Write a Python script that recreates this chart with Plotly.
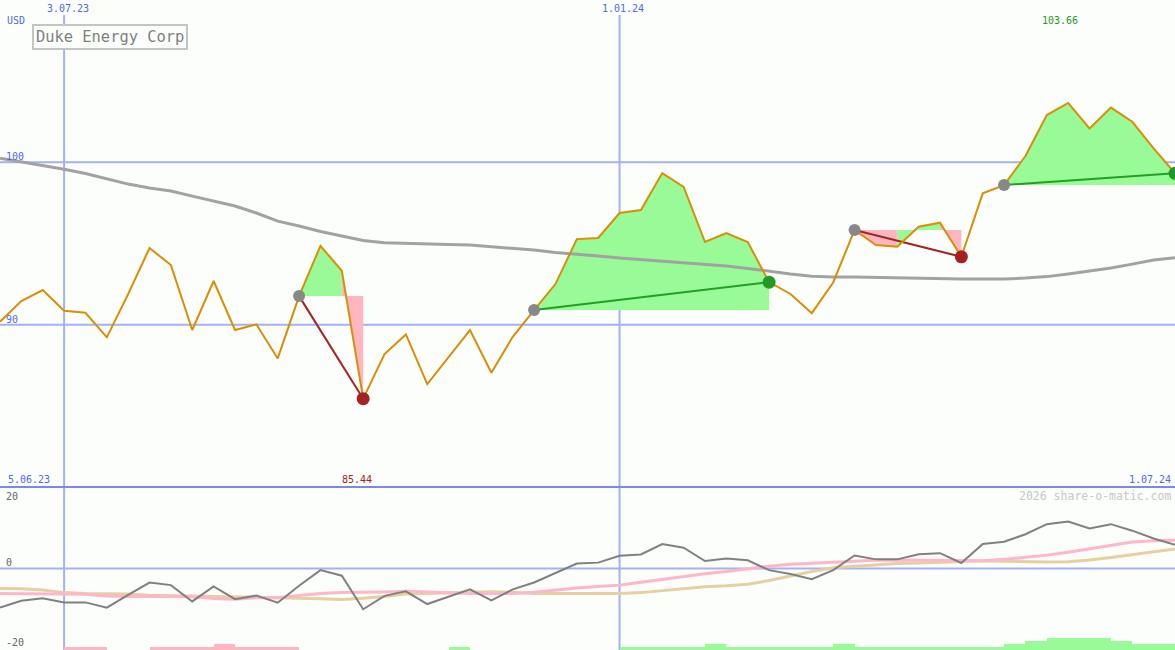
import pandas as pd
import plotly.graph_objects as go

# ---------------- data ----------------
start_date = "2023-06-12"
n_weeks = 56
dates = pd.date_range(start_date, periods=n_weeks, freq="7D")

price = [90.18, 91.45, 92.13, 90.86, 90.73, 89.22, 91.89, 94.72, 93.67, 89.67,
         92.69, 89.67, 90.02, 87.92, 91.76, 94.86, 93.32, 85.44, 88.19, 89.40,
         86.34, 88.02, 89.67, 87.04, 89.25, 90.90, 92.50, 95.27, 95.34, 96.88,
         97.06, 99.34, 98.48, 95.09, 95.64, 95.09, 92.62, 91.89, 90.71, 92.60,
         95.83, 94.90, 94.80, 96.03, 96.28, 94.18, 98.09, 98.60, 100.39, 102.91,
         103.66, 102.09, 103.37, 102.50, 100.86, 99.32]

moving_avg = [100.25, 100.02, 99.83, 99.57, 99.31, 98.97, 98.66, 98.42, 98.23, 97.92,
              97.62, 97.31, 96.88, 96.38, 96.08, 95.74, 95.46, 95.18, 95.05, 95.00,
              94.97, 94.94, 94.90, 94.81, 94.72, 94.60, 94.44, 94.35, 94.23, 94.10,
              94.01, 93.92, 93.83, 93.73, 93.61, 93.46, 93.27, 93.12, 92.99, 92.93,
              92.93, 92.90, 92.90, 92.87, 92.84, 92.81, 92.81, 92.81, 92.87, 92.96,
              93.12, 93.30, 93.49, 93.73, 93.98, 94.12]

# trades: (entry index, exit index)
trades = [(14, 17), (25, 36), (40, 45), (47, 55)]

osc_main = [-12.0, -9.9, -9.1, -10.4, -10.4, -12.0, -8.1, -4.3, -5.1, -10.1,
            -5.5, -9.4, -8.3, -10.5, -5.3, -0.5, -2.2, -12.5, -8.4, -7.0,
            -10.9, -8.7, -6.4, -9.8, -6.4, -4.3, -1.4, 1.5, 1.8, 3.9,
            4.3, 7.5, 6.4, 2.3, 3.1, 2.5, -0.5, -1.7, -3.3, -0.5,
            4.0, 2.8, 2.8, 4.4, 4.7, 1.7, 7.5, 8.2, 10.5, 13.6,
            14.4, 12.3, 13.6, 11.6, 9.2, 7.3]

osc_signal = [-7.7, -7.7, -7.7, -7.8, -7.9, -8.4, -8.6, -8.5, -8.5, -8.7,
              -9.2, -9.4, -9.0, -9.0, -8.3, -7.7, -7.4, -7.4, -7.2, -7.0,
              -7.2, -7.6, -7.7, -7.7, -7.7, -7.3, -6.6, -6.0, -5.5, -5.1,
              -4.2, -3.3, -2.4, -1.6, -0.9, 0.0, 0.7, 1.3, 1.6, 2.0,
              2.3, 2.5, 2.6, 2.6, 2.6, 2.5, 2.4, 2.8, 3.4, 4.1,
              5.0, 6.0, 7.0, 8.1, 8.5, 8.7]

osc_slow = [-6.1, -6.2, -6.6, -7.4, -7.7, -7.8, -7.8, -8.2, -8.3, -8.4,
            -8.6, -8.7, -8.8, -8.9, -9.1, -9.3, -9.5, -9.1, -8.6, -7.8,
            -7.6, -7.5, -7.3, -7.1, -7.3, -7.7, -7.7, -7.7, -7.7, -7.7,
            -7.4, -6.8, -6.2, -5.6, -5.3, -4.8, -3.7, -2.3, -0.9, 0.2,
            0.7, 1.2, 1.5, 1.7, 2.0, 2.2, 2.4, 2.2, 2.0, 2.0,
            2.1, 2.6, 3.4, 4.2, 5.1, 6.0]

histogram = [0, 0, 0, -1, -1, 0, 0, -1, -1, -1,
             -2, -1, -1, -1, 0, 0, 0, 0, 0, 0,
             0, 1, 0, 0, 0, 0, 0, 0, 0, 1,
             1, 1, 1, 2, 1, 1, 1, 1, 1, 2,
             1, 1, 1, 1, 1, 1, 1, 2, 3, 4,
             4, 4, 3, 2, 2, 0]

title_text = "Duke Energy Corp"
currency = "USD"
vline_dates = ["2023-07-03", "2024-01-01"]
vline_labels = ["3.07.23", "1.01.24"]
hlines_top = [100, 90]
period_start_label = "5.06.23"
period_end_label = "1.07.24"
high_label = "103.66"
low_label = "85.44"
osc_labels = ["20", "0", "-20"]
watermark = "2026 share-o-matic.com"

# ---------------- styling ----------------
W, H = 1175, 650
BG = "#fbfefb"
GRID = "#a4b2f2"
SEP = "#7a88ec"
LBL = "#5566ee"
FONT = "DejaVu Sans Mono"
GREEN_FILL = "#98fb98"
PINK_FILL = "#ffb6c1"
split = 1 - 487 / H


def py(px):
    return 1 - px / H


def px_x(px):
    return px / W


fig = go.Figure()

# trade fills (per weekly segment)
gx, gy, rx, ry = [], [], [], []
for e, x in trades:
    E = price[e]
    for k in range(e, x):
        xs = [dates[k], dates[k + 1], dates[k + 1], dates[k], dates[k], None]
        ys = [price[k], price[k + 1], E, E, price[k], None]
        if price[k + 1] >= E:
            gx += xs
            gy += ys
        else:
            rx += xs
            ry += ys

fig.add_trace(go.Scatter(x=gx, y=gy, fill="toself", fillcolor=GREEN_FILL,
                         mode="none", hoverinfo="skip", yaxis="y"))
fig.add_trace(go.Scatter(x=rx, y=ry, fill="toself", fillcolor=PINK_FILL,
                         mode="none", hoverinfo="skip", yaxis="y"))

# moving average
fig.add_trace(go.Scatter(x=dates, y=moving_avg, mode="lines",
                         line=dict(color="#a2a2a2", width=3), yaxis="y"))

# trade connecting lines
for e, x in trades:
    win = price[x] >= price[e]
    fig.add_trace(go.Scatter(x=[dates[e], dates[x]], y=[price[e], price[x]],
                             mode="lines",
                             line=dict(color="#22a022" if win else "#a42424", width=2),
                             yaxis="y"))

# price
fig.add_trace(go.Scatter(x=dates, y=price, mode="lines",
                         line=dict(color="#d98e04", width=2), yaxis="y"))

# markers
for e, x in trades:
    win = price[x] >= price[e]
    fig.add_trace(go.Scatter(x=[dates[e]], y=[price[e]], mode="markers",
                             marker=dict(color="#888888", size=12), yaxis="y"))
    fig.add_trace(go.Scatter(x=[dates[x]], y=[price[x]], mode="markers",
                             marker=dict(color="#229922" if win else "#a52222", size=13),
                             yaxis="y"))

# histogram bars at the bottom
week_ms = 7 * 24 * 3600 * 1000
bar_x = [d + pd.Timedelta(days=3.5) for d in dates]
fig.add_trace(go.Bar(x=bar_x, y=[abs(v) for v in histogram], width=week_ms,
                     marker=dict(color=[GREEN_FILL if v > 0 else PINK_FILL for v in histogram],
                                 line=dict(width=0)),
                     yaxis="y3"))

# oscillator lines
fig.add_trace(go.Scatter(x=dates, y=osc_slow, mode="lines",
                         line=dict(color="#e6cfa0", width=3), yaxis="y2"))
fig.add_trace(go.Scatter(x=dates, y=osc_signal, mode="lines",
                         line=dict(color="#ffb6c8", width=3), yaxis="y2"))
fig.add_trace(go.Scatter(x=dates, y=osc_main, mode="lines",
                         line=dict(color="#808080", width=2), yaxis="y2"))

shapes = []
for d in vline_dates:
    shapes.append(dict(type="line", xref="x", yref="paper", x0=d, x1=d,
                       y0=0, y1=py(15), line=dict(color=GRID, width=2), layer="below"))
for v in hlines_top:
    shapes.append(dict(type="line", xref="paper", yref="y", x0=0, x1=1, y0=v, y1=v,
                       line=dict(color=GRID, width=2), layer="below"))
shapes.append(dict(type="line", xref="paper", yref="y2", x0=0, x1=1, y0=0, y1=0,
                   line=dict(color=GRID, width=2), layer="below"))
shapes.append(dict(type="line", xref="paper", yref="paper", x0=0, x1=1, y0=split, y1=split,
                   line=dict(color=SEP, width=2)))

ann = []


def label(text, xpx, ypx, color=LBL, size=10, xanchor="left"):
    ann.append(dict(text=text, x=px_x(xpx), y=py(ypx), xref="paper", yref="paper",
                    xanchor=xanchor, yanchor="middle", showarrow=False,
                    font=dict(family=FONT, size=size, color=color)))


label(currency, 5, 21)
label(vline_labels[0], 68, 9, xanchor="center")
label(vline_labels[1], 623, 9, xanchor="center")
label(high_label, 1060, 21, color="#229922", xanchor="center")
label(str(hlines_top[0]), 4, 156)
label(str(hlines_top[1]), 4, 319)
label(period_start_label, 6, 479)
label(low_label, 357, 479, color="#a52222", xanchor="center")
label(period_end_label, 1173, 479, xanchor="right")
label(watermark, 1173, 496, color="#c8c8c8", size=11.5, xanchor="right")
label(osc_labels[0], 4, 496, color="#666666")
label(osc_labels[1], 4, 562, color="#666666")
label(osc_labels[2], 4, 642, color="#666666")

ann.append(dict(text=title_text, x=px_x(32), y=py(24), xref="paper", yref="paper",
                xanchor="left", yanchor="top", showarrow=False,
                font=dict(family=FONT, size=15.4, color="#808080"),
                bordercolor="#c4c4c4", borderwidth=2, borderpad=2, bgcolor=BG))

fig.update_layout(
    width=W, height=H,
    margin=dict(l=0, r=0, t=0, b=0),
    paper_bgcolor=BG, plot_bgcolor=BG,
    showlegend=False,
    bargap=0,
    xaxis=dict(range=[dates[0], dates[-1]], visible=False, anchor="y2"),
    yaxis=dict(domain=[split, 1], range=[80, 110], visible=False),
    yaxis2=dict(domain=[0, split], range=[-25, 25], visible=False),
    yaxis3=dict(overlaying="y2", range=[0, 163 / 3], visible=False),
    shapes=shapes,
    annotations=ann,
)

fig.write_html("out.html", config={"displayModeBar": False},
               post_script="document.body.style.margin='0';document.body.style.overflow='hidden';")
